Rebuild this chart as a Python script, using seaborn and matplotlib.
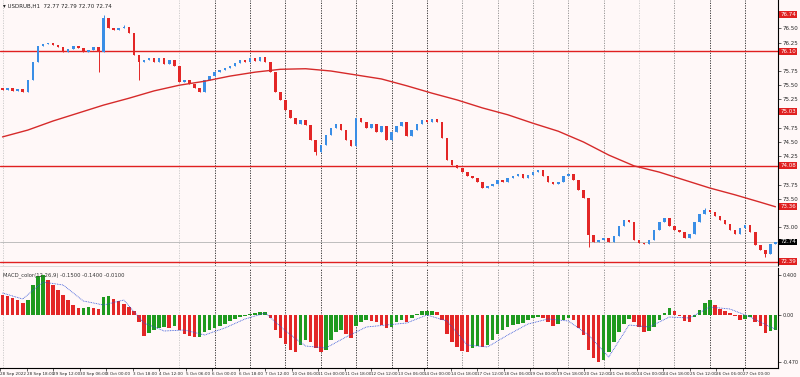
import matplotlib
matplotlib.use("Agg")
from matplotlib import pyplot as plt
import seaborn as sns
import pandas as pd
import numpy as np

# ---- price data (one value per bar) ----
closes = [75.42, 75.45, 75.40, 75.43, 75.38, 75.59, 75.91, 76.19, 76.23, 76.24,
          76.21, 76.17, 76.08, 76.14, 76.19, 76.15, 76.08, 76.12, 76.17, 76.08,
          76.68, 76.51, 76.47, 76.51, 76.52, 76.42, 76.03, 75.91, 75.94, 75.98,
          75.91, 75.98, 75.87, 75.94, 75.84, 75.56, 75.59, 75.52, 75.45, 75.38,
          75.59, 75.66, 75.73, 75.77, 75.80, 75.84, 75.89, 75.94, 75.91, 75.98,
          75.93, 76.00, 75.91, 75.73, 75.38, 75.24, 75.06, 74.92, 74.82, 74.89,
          74.80, 74.54, 74.32, 74.45, 74.62, 74.75, 74.82, 74.71, 74.54, 74.43,
          74.92, 74.85, 74.75, 74.82, 74.68, 74.78, 74.54, 74.68, 74.78, 74.85,
          74.61, 74.71, 74.82, 74.89, 74.85, 74.90, 74.85, 74.57, 74.18, 74.10,
          74.04, 73.97, 73.90, 73.87, 73.80, 73.69, 73.73, 73.76, 73.83, 73.80,
          73.87, 73.90, 73.94, 73.87, 73.92, 73.97, 74.01, 73.90, 73.80, 73.76,
          73.80, 73.90, 73.94, 73.83, 73.65, 73.51, 72.86, 72.74, 72.77, 72.81,
          72.74, 72.85, 73.02, 73.13, 73.09, 72.77, 72.72, 72.70, 72.77, 72.95,
          73.09, 73.16, 73.02, 72.95, 72.92, 72.81, 72.88, 73.09, 73.23, 73.30,
          73.27, 73.20, 73.13, 73.06, 72.95, 72.88, 72.99, 73.04, 72.92, 72.69,
          72.60, 72.53, 72.70, 72.74]
first_open = 75.45
wick_highs = {20: 76.74, 24: 76.56, 139: 73.34}
wick_lows = {19: 75.73, 27: 75.59, 62: 74.27, 116: 72.66, 151: 72.48}

# moving average, sampled every few bars
ma_bars = [0, 5, 10, 15, 20, 25, 30, 35, 40, 45, 50, 55, 60, 65, 70, 75,
           80, 85, 90, 95, 100, 105, 110, 115, 120, 125, 130, 135, 140, 145, 150, 153]
ma_vals = [74.59, 74.71, 74.87, 75.01, 75.15, 75.27, 75.40, 75.50, 75.57, 75.66,
           75.73, 75.78, 75.79, 75.75, 75.68, 75.61, 75.49, 75.36, 75.24, 75.10,
           74.98, 74.83, 74.69, 74.50, 74.27, 74.08, 73.97, 73.83, 73.69, 73.57,
           73.44, 73.36]

levels = [76.10, 74.08, 72.39]
tag_levels = [76.74, 75.03]

# oscillator
hist = [0.20, 0.19, 0.17, 0.15, 0.12, 0.15, 0.30, 0.39, 0.40, 0.35,
        0.30, 0.25, 0.20, 0.15, 0.10, 0.07, 0.07, 0.08, 0.07, 0.06,
        0.18, 0.19, 0.16, 0.14, 0.11, 0.08, 0.04, -0.07, -0.21, -0.18,
        -0.15, -0.13, -0.12, -0.13, -0.11, -0.15, -0.19, -0.21, -0.22, -0.22,
        -0.17, -0.15, -0.13, -0.11, -0.09, -0.06, -0.04, -0.02, -0.01, 0.01,
        0.02, 0.03, 0.03, -0.03, -0.15, -0.23, -0.29, -0.35, -0.37, -0.30,
        -0.25, -0.27, -0.33, -0.37, -0.35, -0.25, -0.17, -0.15, -0.19, -0.23,
        -0.11, -0.07, -0.05, -0.06, -0.07, -0.10, -0.13, -0.12, -0.07, -0.05,
        -0.07, -0.03, 0.01, 0.04, 0.04, 0.04, 0.03, -0.05, -0.19, -0.27,
        -0.32, -0.36, -0.37, -0.33, -0.31, -0.32, -0.30, -0.25, -0.19, -0.15,
        -0.12, -0.10, -0.09, -0.08, -0.05, -0.03, -0.02, -0.03, -0.07, -0.11,
        -0.09, -0.05, -0.03, -0.05, -0.13, -0.20, -0.35, -0.43, -0.47, -0.45,
        -0.37, -0.27, -0.17, -0.09, -0.04, -0.07, -0.12, -0.17, -0.16, -0.12,
        -0.05, 0.02, 0.07, 0.04, -0.01, -0.06, -0.07, -0.02, 0.05, 0.12,
        0.15, 0.10, 0.06, 0.04, 0.02, -0.01, -0.05, -0.04, -0.02, -0.07,
        -0.11, -0.18, -0.16, -0.15]
sig_bars = list(range(0, 153, 4)) + [153]
sig_vals = [0.22, 0.16, 0.33, 0.30, 0.14, 0.10, 0.15, -0.08, -0.16, -0.15,
            -0.20, -0.13, -0.04, 0.02, -0.16, -0.31, -0.33, -0.22, -0.12, -0.10,
            -0.08, 0.00, -0.06, -0.30, -0.32, -0.20, -0.09, -0.04, -0.06, -0.20,
            -0.42, -0.10, -0.12, -0.02, -0.03, 0.08, 0.06, -0.02, -0.12, -0.14]

day_bars = [0, 35, 42, 49, 56, 63, 70, 77, 84, 91, 98, 105, 112, 119, 126, 133, 140, 147]
light_days = [0, 35, 126]
mid_days = [91, 98, 105, 112, 119, 133]

date_labels = ["28 Sep 2022", "28 Sep 18:00", "29 Sep 12:00", "30 Sep 06:00", "3 Oct 00:00",
               "3 Oct 18:00", "4 Oct 12:00", "5 Oct 06:00", "6 Oct 00:00", "6 Oct 18:00",
               "7 Oct 12:00", "10 Oct 06:00", "11 Oct 00:00", "11 Oct 18:00", "12 Oct 12:00",
               "13 Oct 06:00", "14 Oct 00:00", "14 Oct 18:00", "17 Oct 12:00", "18 Oct 06:00",
               "19 Oct 00:00", "19 Oct 18:00", "20 Oct 12:00", "21 Oct 06:00", "24 Oct 00:00",
               "24 Oct 18:00", "25 Oct 12:00", "26 Oct 06:00", "27 Oct 00:00"]
title = "\u25be USDRUB,H1  72.77 72.79 72.70 72.74"
osc_title = "MACD_color(12,26,9) -0.1500 -0.1400 -0.0100"

BG = "#fff8f8"
BULL = "#3a8ee6"
BEAR = "#e32626"
LVL = "#e02020"
GREEN = "#1f9a1f"

sns.set_style("white")
plt.rcParams['font.family'] = ['DejaVu Sans']

fig = plt.figure(figsize=(8, 3.77), dpi=100, facecolor=BG)
ax = fig.add_axes([0.0, 0.2944, 0.9725, 0.7056], facecolor=BG)
ax2 = fig.add_axes([0.0, 0.0239, 0.9725, 0.2652], facecolor=BG, sharex=ax)

n = len(closes)
df = pd.DataFrame({"open": [first_open] + closes[:-1], "close": closes})
df["high"] = df[["open", "close"]].max(axis=1)
df["low"] = df[["open", "close"]].min(axis=1)
for i, v in wick_highs.items():
    df.loc[i, "high"] = v
for i, v in wick_lows.items():
    df.loc[i, "low"] = v
cols = np.where(df["close"] >= df["open"], BULL, BEAR)

# day separators
for d in day_bars:
    c = "#c8c8c8" if d in light_days else ("#8a8a8a" if d in mid_days else "#222222")
    for a in (ax, ax2):
        a.axvline(d, color=c, lw=0.6, ls=(0, (1.5, 1.5)), zorder=0)

# levels
for lv in levels:
    ax.axhline(lv, color=LVL, lw=1.0, zorder=1)
ax.axhline(closes[-1], color="#b4b4b4", lw=0.6, zorder=1)

# candles
ax.vlines(df.index, df["low"], df["high"], colors=cols, lw=0.7, zorder=2)
body = (df["close"] - df["open"]).abs().clip(lower=0.012)
ax.bar(df.index, body, bottom=df[["open", "close"]].min(axis=1), width=0.5,
       color=cols, linewidth=0, zorder=3)

sns.lineplot(x=ma_bars, y=ma_vals, ax=ax, color="#d62a2a", lw=1.0, zorder=4)

ax.set_xlim(-0.5, n - 0.5)
ax.set_ylim(72.317, 77.0)

tags = levels + tag_levels + [ma_vals[-1], closes[-1]]
yt = [v for v in np.arange(72.5, 76.76, 0.25) if min(abs(v - t) for t in tags) > 0.11]
ax.yaxis.tick_right()
ax.set_yticks(yt)
ax.set_yticklabels([f"{v:.2f}" for v in yt])
ax.tick_params(axis="y", labelsize=4, length=2, pad=1.5, width=0.5, right=True)
ax.tick_params(axis="x", bottom=False, labelbottom=False)
for s in ["left", "top"]:
    ax.spines[s].set_visible(False)
ax.spines["right"].set_color("black")
ax.spines["right"].set_linewidth(0.8)
ax.spines["bottom"].set_color("#d0d0d0")
ax.spines["bottom"].set_linewidth(0.5)

yax = ax.get_yaxis_transform()
for lv in levels + tag_levels + [ma_vals[-1]]:
    ax.text(1.003, lv, f"{lv:.2f}", transform=yax, fontsize=4, color="white",
            va="center", ha="left", clip_on=False, zorder=6,
            bbox=dict(facecolor=LVL, edgecolor="none", pad=0.7))
ax.text(1.003, closes[-1], f"{closes[-1]:.2f}", transform=yax, fontsize=4, color="white",
        va="center", ha="left", clip_on=False, zorder=6,
        bbox=dict(facecolor="black", edgecolor="none", pad=0.7))
ax.text(0.004, 0.985, title, transform=ax.transAxes, fontsize=4, va="top", ha="left", color="#222222")

# oscillator panel
hs = pd.Series(hist)
hcols = np.where(hs.diff().fillna(-1) >= 0, GREEN, BEAR)
ax2.bar(hs.index, hs.values, width=0.7, color=hcols, linewidth=0, zorder=2)
sns.lineplot(x=sig_bars, y=sig_vals, ax=ax2, color="#2d4fd6", lw=0.6,
             linestyle=(0, (1, 1)), zorder=3)
ax2.set_ylim(-0.53, 0.47)
ax2.yaxis.tick_right()
ot = [hs.max(), 0.0, hs.min()]
ax2.set_yticks(ot)
ax2.set_yticklabels([f"{hs.max():.3f}", "0.00", f"{hs.min():.3f}"])
ax2.tick_params(axis="y", labelsize=3.6, length=2, pad=1.2, width=0.5)
ticks = np.arange(len(date_labels)) * 18 * 7 / 24 - 0.5
ax2.set_xticks(ticks)
ax2.set_xticklabels(date_labels, ha="left")
ax2.tick_params(axis="x", labelsize=3.0, length=2, pad=0.8, width=0.5, bottom=True)
for s in ["left", "top"]:
    ax2.spines[s].set_visible(False)
for s in ["right", "bottom"]:
    ax2.spines[s].set_color("black")
    ax2.spines[s].set_linewidth(0.8)
ax2.text(0.004, 0.96, osc_title, transform=ax2.transAxes, fontsize=3.8, va="top",
         ha="left", color="#333333")
ax2.set_xlim(-0.5, n - 0.5)

fig.savefig("out.png", dpi=100, facecolor=BG)
